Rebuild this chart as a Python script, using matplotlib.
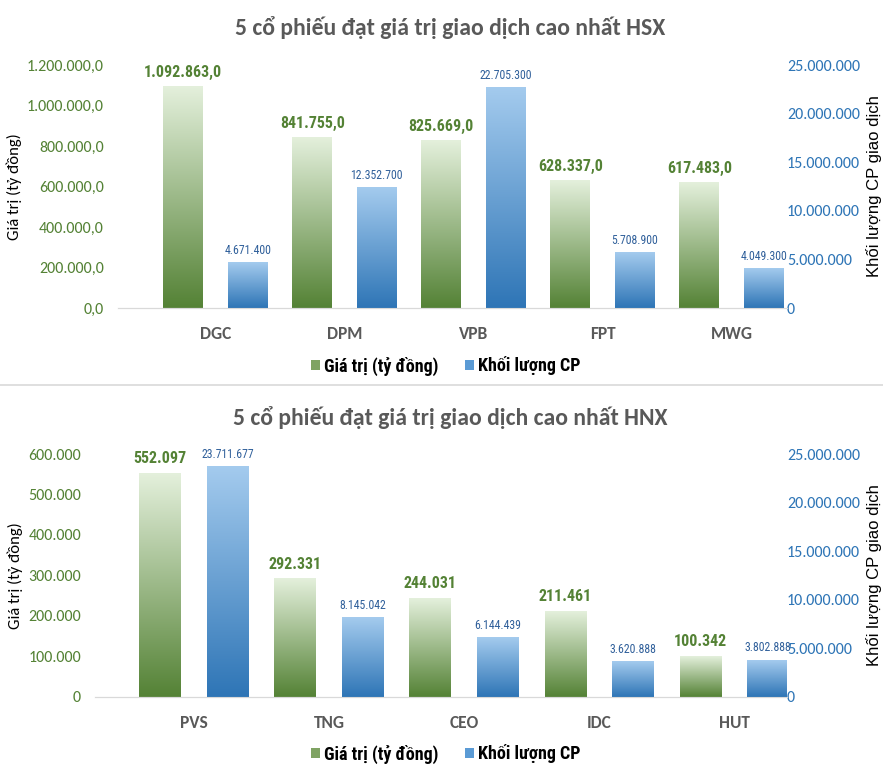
import matplotlib
matplotlib.use("Agg")
import matplotlib.pyplot as plt
import numpy as np
from matplotlib.lines import Line2D
from matplotlib.patches import Patch
from matplotlib.ticker import FuncFormatter

# dữ liệu
hsx_codes = ["DGC", "DPM", "VPB", "FPT", "MWG"]
hsx_value = [1092863.0, 841755.0, 825669.0, 628337.0, 617483.0]
hsx_volume = [4671400, 12352700, 22705300, 5708900, 4049300]
hsx_value_ticks = [0, 200000, 400000, 600000, 800000, 1000000, 1200000]

hnx_codes = ["PVS", "TNG", "CEO", "IDC", "HUT"]
hnx_value = [552097, 292331, 244031, 211461, 100342]
hnx_volume = [23711677, 8145042, 6144439, 3620888, 3802888]
hnx_value_ticks = [0, 100000, 200000, 300000, 400000, 500000, 600000]

volume_ticks = [0, 5000000, 10000000, 15000000, 20000000, 25000000]

GREEN = "#548235"
GREEN_LIGHT = "#e4f0dc"
BLUE = "#2e75b6"
BLUE_LIGHT = "#a4cbee"
BLUE_TXT = "#2f5f9a"
GRAY = "#595959"

NARROW = ["Roboto Condensed", "DejaVu Sans"]
CAL = ["Carlito", "DejaVu Sans"]
ARIAL = ["Liberation Sans", "DejaVu Sans"]


def vn(x, dec=0):
    s = f"{x:,.{dec}f}"
    return s.replace(",", "X").replace(".", ",").replace("X", ".")


def gradient_bars(ax, bars, top, bottom):
    grad = np.linspace(0, 1, 256).reshape(-1, 1)
    c0 = np.array(matplotlib.colors.to_rgb(top))
    c1 = np.array(matplotlib.colors.to_rgb(bottom))
    img = c0 + (c1 - c0) * grad[:, :, None]
    for b in bars:
        x, y, w, h = b.get_x(), b.get_y(), b.get_width(), b.get_height()
        ax.imshow(img, extent=(x, x + w, y, y + h), aspect="auto",
                  origin="upper", zorder=2)
        b.set_visible(False)


def panel(rect, title, codes, values, volumes, vticks, vdec, xlim, title_y, leg_y):
    ax = fig.add_axes(rect)
    ax2 = ax.twinx()
    x = np.arange(len(codes))
    w = 0.31
    gb = ax.bar(x - 0.25, values, w, color=GREEN)
    bb = ax2.bar(x + 0.25, volumes, w, color=BLUE)
    gradient_bars(ax, gb, GREEN_LIGHT, GREEN)
    gradient_bars(ax2, bb, BLUE_LIGHT, BLUE)

    for xi, v in zip(x, values):
        ax.annotate(vn(v, vdec), (xi - 0.25, v), xytext=(0, 5),
                    textcoords="offset points", ha="center", va="bottom",
                    fontsize=11.5, fontweight="bold", color=GREEN, family=NARROW)
    for xi, v in zip(x, volumes):
        ax2.annotate(vn(v), (xi + 0.25, v), xytext=(0, 4),
                     textcoords="offset points", ha="center", va="bottom",
                     fontsize=8.5, color=BLUE_TXT, family=NARROW)

    ax.set_xlim(*xlim)
    ax.set_ylim(0, vticks[-1])
    ax2.set_ylim(0, volume_ticks[-1])
    ax.set_yticks(vticks)
    ax2.set_yticks(volume_ticks)
    ax.yaxis.set_major_formatter(FuncFormatter(lambda v, p: vn(v, vdec)))
    ax2.yaxis.set_major_formatter(FuncFormatter(lambda v, p: vn(v)))
    ax.set_xticks(x)
    ax.set_xticklabels(codes, fontsize=12.5, fontweight="bold", color=GRAY, family=CAL)

    for a in (ax, ax2):
        for s in a.spines.values():
            s.set_visible(False)
        a.spines["bottom"].set_visible(True)
        a.spines["bottom"].set_color("#d9d9d9")
        a.tick_params(length=0)
    ax.tick_params(axis="y", labelcolor=GREEN, labelsize=11.5, pad=10)
    ax.tick_params(axis="x", pad=13)
    ax2.tick_params(axis="y", labelcolor=BLUE, labelsize=11.5, pad=0)
    for t in ax.get_yticklabels() + ax2.get_yticklabels():
        t.set_family(CAL)

    ax.set_ylabel("Giá trị (tỷ đồng)", fontsize=12, family=CAL, labelpad=4)
    ax2.set_ylabel("Khối lượng CP giao dịch", fontsize=12, family=ARIAL, labelpad=4)

    fig.text(0.51, title_y, title, ha="center", va="center", fontsize=17,
             fontweight="bold", color=GRAY, family=CAL)

    handles = [Patch(facecolor="#7fa363", label="Giá trị (tỷ đồng)"),
               Patch(facecolor="#5b9bd5", label="Khối lượng CP")]
    fig.legend(handles=handles, loc="center", bbox_to_anchor=(0.505, leg_y),
               ncol=2, frameon=False, handlelength=0.5, handleheight=0.5,
               handletextpad=0.2, columnspacing=1.5,
               prop={"family": NARROW, "weight": "bold", "size": 13})
    return ax, ax2


fig = plt.figure(figsize=(8.83, 7.77), dpi=100)

panel([0.1336, 0.6036, 0.7577, 0.3127],
      "5 cổ phiếu đạt giá trị giao dịch cao nhất HSX",
      hsx_codes, hsx_value, hsx_volume, hsx_value_ticks, 1,
      (-0.756, 4.43), 1 - 28 / 777, 1 - 366 / 777)

panel([0.1076, 0.1030, 0.7837, 0.3127],
      "5 cổ phiếu đạt giá trị giao dịch cao nhất HNX",
      hnx_codes, hnx_value, hnx_volume, hnx_value_ticks, 0,
      (-0.733, 4.39), 1 - 418 / 777, 1 - 754 / 777)

fig.add_artist(Line2D([0, 1], [1 - 385 / 777] * 2, color="#d9d9d9", lw=1.2,
                      transform=fig.transFigure))

fig.savefig("out.png", dpi=100)
